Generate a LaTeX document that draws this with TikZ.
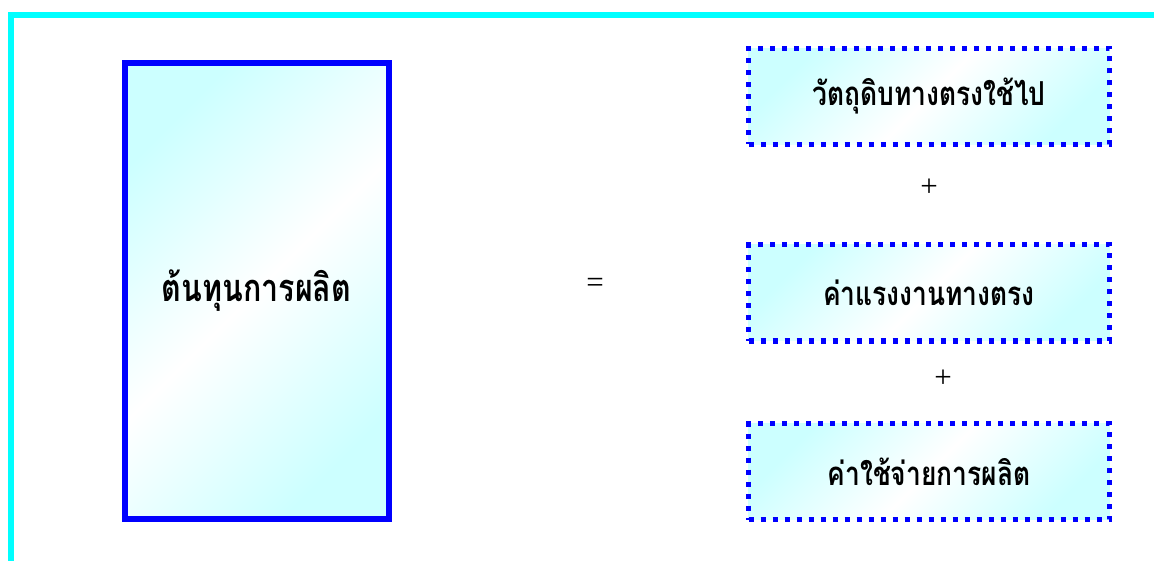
\documentclass[tikz,border=0pt]{standalone}
\usepackage{fontspec}
\newfontfamily\thaifont[Script=Thai, FakeStretch=0.8]{Loma}
\newfontfamily\signfont{Liberation Serif}
\definecolor{aqua}{RGB}{0,255,255}
\definecolor{paleaqua}{RGB}{204,255,255}

\tikzset{
  costbox/.style={draw=blue, line width=6pt, top color=paleaqua, bottom color=paleaqua, middle color=white, shading angle=45, minimum width=264pt, minimum height=456pt, font=\thaifont\bfseries\fontsize{38}{44}\selectfont},
  partbox/.style={draw=blue, line width=5pt, dash pattern=on 5pt off 7pt, top color=paleaqua, bottom color=paleaqua, middle color=white, shading angle=45, minimum width=361pt, minimum height=96pt, font=\thaifont\bfseries\fontsize{33}{38}\selectfont},
  sign/.style={font=\signfont\fontsize{31}{34}\selectfont}
}

\begin{document}
\begin{tikzpicture}[x=1pt, y=-1pt]
\useasboundingbox (0,0) rectangle (1154,561);
\draw [aqua, line width=6pt] (11,561) -- (11,15) -- (1154,15);
\node [costbox] (cost) at (256.5,291) {ต้นทุนการผลิต};
\node [sign] (equal) at (595,285) {=};
\node [partbox] (material) at (929,96.5) {วัตถุดิบทางตรงใช้ไป};
\node [sign] (plusa) at (929,188) {+};
\node [partbox] (labour) at (929,293) {ค่าแรงงานทางตรง};
\node [sign] (plusb) at (943,379) {+};
\node [partbox] (overhead) at (929,471.5) {ค่าใช้จ่ายการผลิต};
\end{tikzpicture}
\end{document}
